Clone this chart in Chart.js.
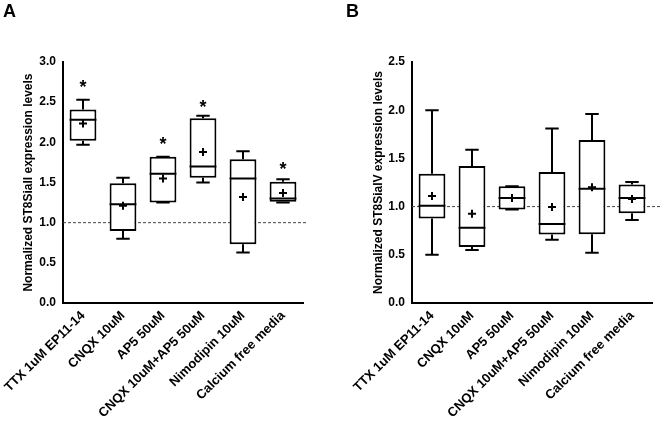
<!DOCTYPE html>
<html>
<head>
<meta charset="utf-8">
<script src="https://cdn.jsdelivr.net/npm/chart.js@4.4.0/dist/chart.umd.min.js"></script>
<style>
  body { margin: 0; background: #fff; }
  #wrap { position: relative; width: 662px; height: 421px; }
  .panel { position: absolute; top: 0; width: 331px; height: 421px; }
  .lbl { position: absolute; top: 1px; font: bold 18px "Liberation Sans", Arial, sans-serif; color: #000; }
</style>
</head>
<body>
<div id="wrap">
  <div class="panel" style="left:0"><canvas id="chartA" width="331" height="421"></canvas></div>
  <div class="panel" style="left:331px"><canvas id="chartB" width="331" height="421"></canvas></div>
  <div class="lbl" style="left:3px">A</div>
  <div class="lbl" style="left:346px">B</div>
</div>
<script>
// categories
const categories = ['TTX 1uM EP11-14', 'CNQX 10uM', 'AP5 50uM', 'CNQX 10uM+AP5 50uM', 'Nimodipin 10uM', 'Calcium free media'];

// panel A - ST8SiaII
const minA  = [1.97, 0.80, 1.25, 1.50, 0.63, 1.25];
const q1A   = [2.02, 0.895, 1.25, 1.56, 0.73, 1.26];
const medA  = [2.28, 1.23, 1.61, 1.70, 1.55, 1.30];
const q3A   = [2.41, 1.49, 1.82, 2.30, 1.79, 1.51];
const maxA  = [2.53, 1.56, 1.82, 2.33, 1.89, 1.54];
const meanA = [2.235, 1.21, 1.55, 1.88, 1.32, 1.37];
const starA = [2.72, null, 2.01, 2.48, null, 1.70];

// panel B - ST8SiaIV
const minB  = [0.50, 0.55, 0.97, 0.655, 0.52, 0.86];
const q1B   = [0.876, 0.58, 0.97, 0.71, 0.714, 0.93];
const medB  = [1.01, 0.78, 1.09, 0.82, 1.185, 1.09];
const q3B   = [1.34, 1.42, 1.21, 1.36, 1.69, 1.23];
const maxB  = [2.00, 1.59, 1.21, 1.81, 1.96, 1.255];
const meanB = [1.11, 0.925, 1.09, 0.995, 1.20, 1.08];
const starB = [null, null, null, null, null, null];

const FONT = '"Liberation Sans", Arial, sans-serif';

// whiskers, medians, stars and the dashed 1.0 reference line
const boxExtras = {
  id: 'boxExtras',
  beforeDatasetsDraw(chart, args, opts) {
    const ctx = chart.ctx, y = chart.scales.y, a = chart.chartArea;
    const yy = y.getPixelForValue(1.0);
    ctx.save();
    ctx.strokeStyle = '#444';
    ctx.lineWidth = 1;
    ctx.setLineDash([3, 2]);
    ctx.beginPath();
    ctx.moveTo(a.left, yy);
    ctx.lineTo(a.right + opts.extend, yy);
    ctx.stroke();
    ctx.restore();
  },
  afterDatasetsDraw(chart, args, opts) {
    const ctx = chart.ctx, x = chart.scales.x, y = chart.scales.y;
    const bars = chart.getDatasetMeta(0).data;
    ctx.save();
    ctx.strokeStyle = '#000';
    ctx.lineWidth = 2;
    opts.mins.forEach((mn, i) => {
      const cx = x.getPixelForValue(i);
      const hw = bars[i].width / 2;
      const cap = hw / 2;
      const pMin = y.getPixelForValue(mn), pMax = y.getPixelForValue(opts.maxs[i]);
      const pQ1 = y.getPixelForValue(opts.q1s[i]), pQ3 = y.getPixelForValue(opts.q3s[i]);
      const pMed = y.getPixelForValue(opts.meds[i]);
      ctx.beginPath();
      ctx.moveTo(cx, pQ3); ctx.lineTo(cx, pMax);
      ctx.moveTo(cx - cap, pMax); ctx.lineTo(cx + cap, pMax);
      ctx.moveTo(cx, pQ1); ctx.lineTo(cx, pMin);
      ctx.moveTo(cx - cap, pMin); ctx.lineTo(cx + cap, pMin);
      ctx.moveTo(cx - hw, pMed); ctx.lineTo(cx + hw, pMed);
      ctx.stroke();
      const s = opts.stars[i];
      if (s !== null) {
        ctx.fillStyle = '#000';
        ctx.font = 'bold 18px ' + FONT;
        ctx.textAlign = 'center';
        ctx.textBaseline = 'middle';
        ctx.fillText('*', cx, y.getPixelForValue(s) + 4);
      }
    });
    ctx.restore();
  }
};

function makeChart(id, title, ymax, q1, q3, mins, maxs, meds, means, stars, padLeft, axisW, padRight, extend) {
  const boxes = q1.map((v, i) => [v, q3[i]]);
  return new Chart(document.getElementById(id), {
    type: 'bar',
    data: {
      labels: categories,
      datasets: [{
        data: boxes,
        order: 2,
        backgroundColor: '#fff',
        borderColor: '#000',
        borderWidth: 2,
        borderSkipped: false,
        categoryPercentage: 1,
        barPercentage: 0.67
      }, {
        type: 'line',
        data: means,
        order: 1,
        showLine: false,
        pointStyle: 'cross',
        pointRadius: 4,
        pointBorderWidth: 2,
        pointBorderColor: '#000',
        pointBackgroundColor: '#000'
      }]
    },
    options: {
      responsive: false,
      animation: false,
      layout: { padding: { left: padLeft, top: 62, right: padRight, bottom: 0 } },
      plugins: {
        legend: { display: false },
        tooltip: { enabled: false },
        boxExtras: { q1s: q1, q3s: q3, mins, maxs, meds, stars, extend }
      },
      scales: {
        x: {
          grid: { display: false, drawTicks: true, tickLength: 5, color: '#000' },
          border: { color: '#000', width: 2 },
          ticks: {
            color: '#000', font: { family: FONT, weight: 'bold', size: 13 },
            minRotation: 45, maxRotation: 45, padding: 0, autoSkip: false
          },
          afterFit(s) { s.height = 118; }
        },
        y: {
          min: 0, max: ymax,
          grid: { display: false, drawTicks: true, tickLength: 5, color: '#000' },
          border: { color: '#000', width: 2 },
          ticks: {
            stepSize: 0.5, color: '#000', padding: 2,
            font: { family: FONT, weight: 'bold', size: 12 },
            callback: v => v.toFixed(1)
          },
          title: {
            display: true, text: title, color: '#000',
            font: { family: FONT, weight: 'bold', size: 12 }
          },
          afterFit(s) { s.width = axisW; }
        }
      }
    },
    plugins: [boxExtras]
  });
}

makeChart('chartA', 'Normalized ST8SiaII expression levels', 3.0, q1A, q3A, minA, maxA, medA, meanA, starA, 17, 46, 28, 5);
makeChart('chartB', 'Normalized ST8SiaIV expression levels', 2.5, q1B, q3B, minB, maxB, medB, meanB, starB, 36, 45, 10, 10);
</script>
</body>
</html>
